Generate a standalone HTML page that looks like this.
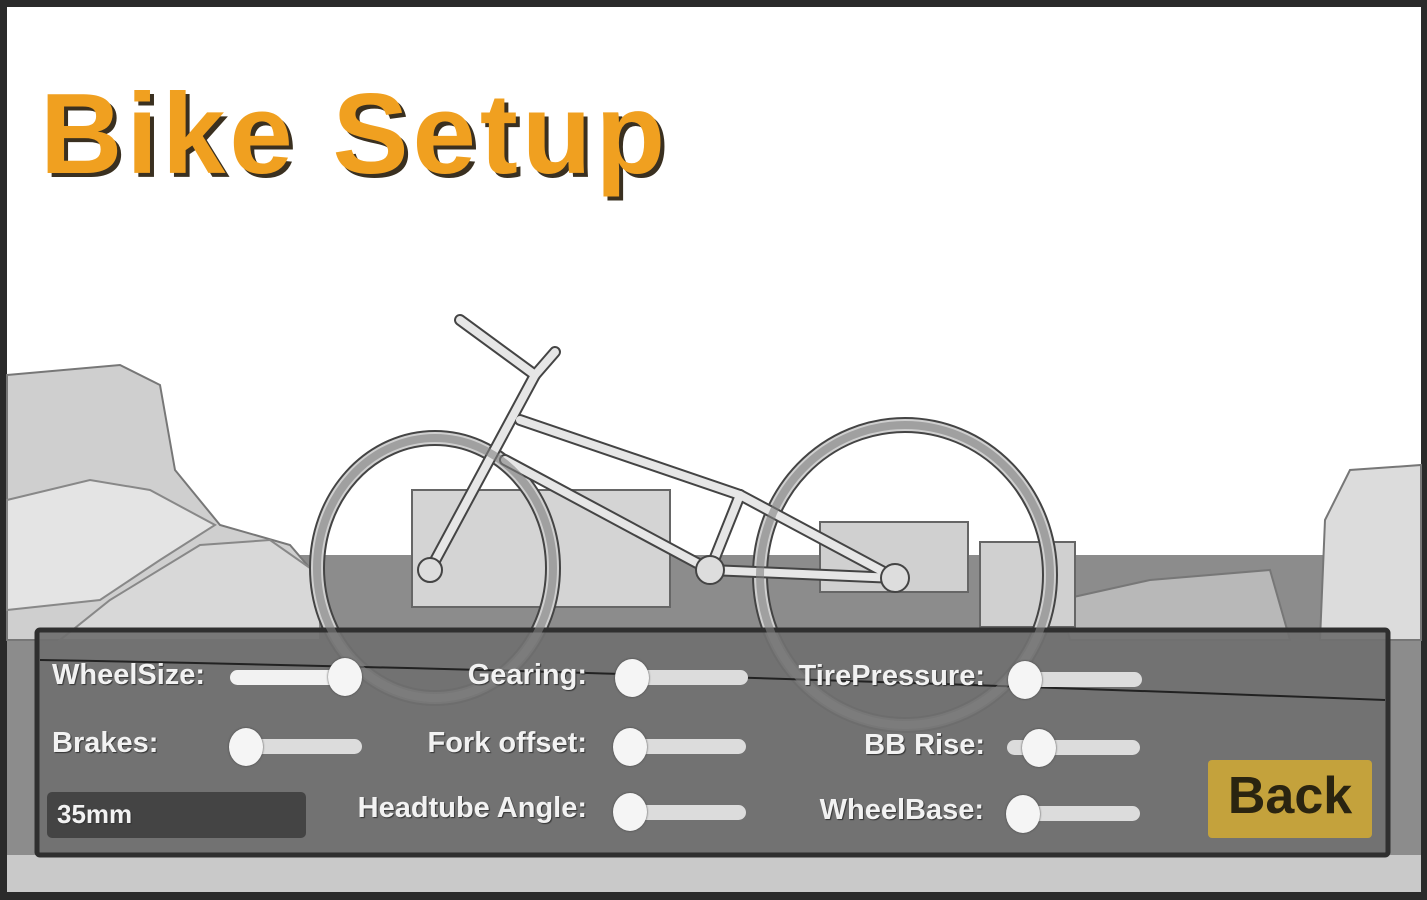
<!DOCTYPE html>
<html><head><style>
html,body{margin:0;padding:0;width:1427px;height:900px;overflow:hidden;background:#2a2a2a}
.lbl{position:absolute;font-family:"Liberation Sans",sans-serif;font-weight:bold;font-size:29px;color:#f2f2f2;text-shadow:1px 1px 1px #333;white-space:nowrap}
.r{text-align:right;width:300px}
.tr{position:absolute;height:15px;border-radius:8px;background:#dcdcdc}
.kn{position:absolute;width:34px;height:38px;border-radius:50%;background:#f5f5f5;box-shadow:0 0 2px #444}
</style></head><body>
<svg width="1427" height="900" style="position:absolute;left:0;top:0">
<rect x="0" y="0" width="1427" height="900" fill="#2a2a2a"/>
<rect x="7" y="7" width="1414" height="885" fill="#ffffff"/>
<rect x="7" y="555" width="1414" height="337" fill="#8c8c8c"/>
<rect x="7" y="855" width="1414" height="37" fill="#c9c9c9"/>
<polygon points="7,375 120,365 160,385 175,470 220,525 290,545 320,580 300,640 7,640" fill="#cfcfcf" stroke="#777" stroke-width="2"/>
<polygon points="7,500 90,480 150,490 215,525 160,560 100,600 7,610" fill="#e4e4e4" stroke="#888" stroke-width="2"/>
<polygon points="110,600 200,545 270,540 320,575 320,640 60,640" fill="#d8d8d8" stroke="#888" stroke-width="2"/>
<polygon points="1325,520 1350,470 1421,465 1421,640 1320,640" fill="#dcdcdc" stroke="#777" stroke-width="2"/>
<polygon points="1060,600 1150,580 1270,570 1290,640 1070,640" fill="#b8b8b8" stroke="#777" stroke-width="2"/>
<rect x="412" y="490" width="258" height="117" fill="#d4d4d4" stroke="#666" stroke-width="2"/>
<rect x="820" y="522" width="148" height="70" fill="#d0d0d0" stroke="#666" stroke-width="2"/>
<rect x="980" y="542" width="95" height="85" fill="#d0d0d0" stroke="#666" stroke-width="2"/>
<g fill="none">
<ellipse cx="435" cy="568" rx="118" ry="130" stroke="#444" stroke-width="16"/>
<ellipse cx="435" cy="568" rx="118" ry="130" stroke="#cfcfcf" stroke-width="12"/>
<ellipse cx="905" cy="575" rx="145" ry="150" stroke="#444" stroke-width="16"/>
<ellipse cx="905" cy="575" rx="145" ry="150" stroke="#cfcfcf" stroke-width="12"/>
</g>
<g stroke-linecap="round">
<g stroke="#444" stroke-width="12">
<line x1="430" y1="570" x2="535" y2="375"/><line x1="520" y1="420" x2="740" y2="495"/>
<line x1="505" y1="460" x2="710" y2="570"/><line x1="740" y1="495" x2="710" y2="570"/>
<line x1="740" y1="495" x2="895" y2="578"/><line x1="710" y1="570" x2="895" y2="578"/>
<line x1="535" y1="375" x2="460" y2="320"/><line x1="535" y1="375" x2="555" y2="352"/>
</g>
<g stroke="#e6e6e6" stroke-width="8">
<line x1="430" y1="570" x2="535" y2="375"/><line x1="520" y1="420" x2="740" y2="495"/>
<line x1="505" y1="460" x2="710" y2="570"/><line x1="740" y1="495" x2="710" y2="570"/>
<line x1="740" y1="495" x2="895" y2="578"/><line x1="710" y1="570" x2="895" y2="578"/>
<line x1="535" y1="375" x2="460" y2="320"/><line x1="535" y1="375" x2="555" y2="352"/>
</g>
<circle cx="430" cy="570" r="12" fill="#ddd" stroke="#444" stroke-width="2"/>
<circle cx="895" cy="578" r="14" fill="#ddd" stroke="#444" stroke-width="2"/>
<circle cx="710" cy="570" r="14" fill="#ddd" stroke="#444" stroke-width="2"/>
</g>
<rect x="37" y="630" width="1351" height="225" rx="3" fill="#707070" fill-opacity="0.93" stroke="#2f2f2f" stroke-width="5"/>
<path d="M40,660 Q600,670 1385,700" fill="none" stroke="#222" stroke-width="2"/>
<ellipse cx="435" cy="568" rx="118" ry="130" fill="none" stroke="#808080" stroke-width="8" opacity="0.6"/>
<ellipse cx="905" cy="575" rx="145" ry="150" fill="none" stroke="#808080" stroke-width="8" opacity="0.6"/>
<rect x="1208" y="760" width="164" height="78" rx="4" fill="#c4a23c"/>
<rect x="47" y="792" width="259" height="46" rx="5" fill="#444"/>
</svg>
<div style="position:absolute;left:44px;top:73px;font-family:'Liberation Sans',sans-serif;font-weight:bold;font-size:114px;color:#3a3020;letter-spacing:4px">Bike Setup</div>
<div style="position:absolute;left:40px;top:69px;font-family:'Liberation Sans',sans-serif;font-weight:bold;font-size:114px;color:#f0a020;letter-spacing:4px">Bike Setup</div>

<div class="lbl" style="left:52px;top:659px">WheelSize:</div>
<div class="tr" style="left:230px;top:670px;width:120px;background:#f2f2f2"></div>
<div class="kn" style="left:328px;top:658px"></div>
<div class="lbl r" style="left:287px;top:659px">Gearing:</div>
<div class="tr" style="left:620px;top:670px;width:128px"></div>
<div class="kn" style="left:615px;top:659px"></div>
<div class="lbl r" style="left:685px;top:660px">TirePressure:</div>
<div class="tr" style="left:1010px;top:672px;width:132px"></div>
<div class="kn" style="left:1008px;top:661px"></div>

<div class="lbl" style="left:52px;top:727px">Brakes:</div>
<div class="tr" style="left:232px;top:739px;width:130px"></div>
<div class="kn" style="left:229px;top:728px"></div>
<div class="lbl r" style="left:287px;top:727px">Fork offset:</div>
<div class="tr" style="left:620px;top:739px;width:126px"></div>
<div class="kn" style="left:613px;top:728px"></div>
<div class="lbl r" style="left:685px;top:729px">BB Rise:</div>
<div class="tr" style="left:1007px;top:740px;width:133px"></div>
<div class="kn" style="left:1022px;top:729px"></div>

<div class="lbl" style="left:57px;top:799px;font-size:26px">35mm</div>
<div class="lbl r" style="left:287px;top:792px">Headtube Angle:</div>
<div class="tr" style="left:620px;top:805px;width:126px"></div>
<div class="kn" style="left:613px;top:793px"></div>
<div class="lbl r" style="left:684px;top:794px">WheelBase:</div>
<div class="tr" style="left:1008px;top:806px;width:132px"></div>
<div class="kn" style="left:1006px;top:795px"></div>

<div style="position:absolute;left:1208px;top:766px;width:164px;text-align:center;font-family:'Liberation Sans',sans-serif;font-weight:bold;font-size:52px;color:#2a2410">Back</div>
</body></html>
